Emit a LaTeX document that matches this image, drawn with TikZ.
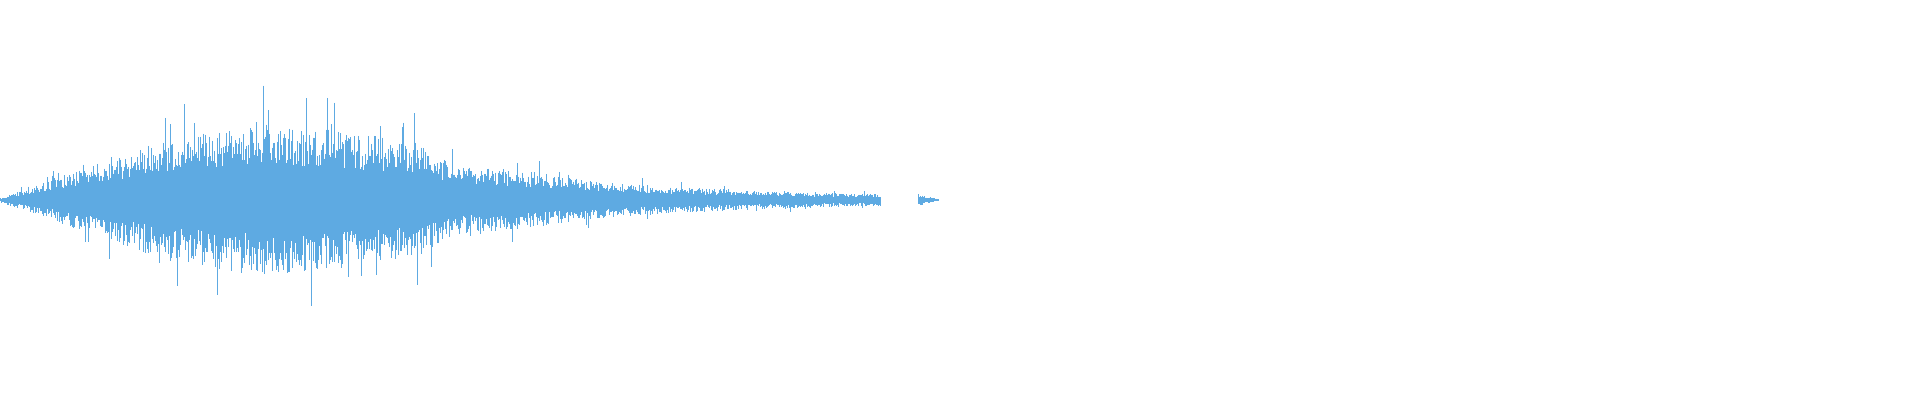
\documentclass[tikz,border=0pt]{standalone}
\definecolor{wave}{RGB}{94,170,226}
\tikzset{sample/.style={draw=wave,line width=0.25pt}}
\begin{document}
\begin{tikzpicture}[x=0.01cm,y=0.01cm]
	\useasboundingbox (0,0) rectangle (1920,400);
	\pgfmathsetseed{7}
	% envelope segments x0/x1/a0/a1
	\foreach \xa/\xb/\aa/\ab in {0/60/2/24,60/170/24/62,170/272/62/78,272/420/78/58,420/455/58/34,455/520/34/30,520/600/30/18,600/700/18/12,700/800/12/8,800/880/8/6,918/938/6/1}{
		\foreach \i in {\xa,...,\xb}{
			\pgfmathsetmacro{\env}{\aa+(\ab-\aa)*(\i-\xa)/(\xb-\xa+0.001)}
			\pgfmathsetmacro{\up}{\env*(0.45+0.55*rnd)*(rnd>0.95?1.5:1)}
			\pgfmathsetmacro{\dn}{\env*(0.45+0.55*rnd)*(rnd>0.95?1.5:1)}
			\draw[sample] (\i,200+\up) -- (\i,200-\dn);
		}
	}
\end{tikzpicture}
\end{document}
